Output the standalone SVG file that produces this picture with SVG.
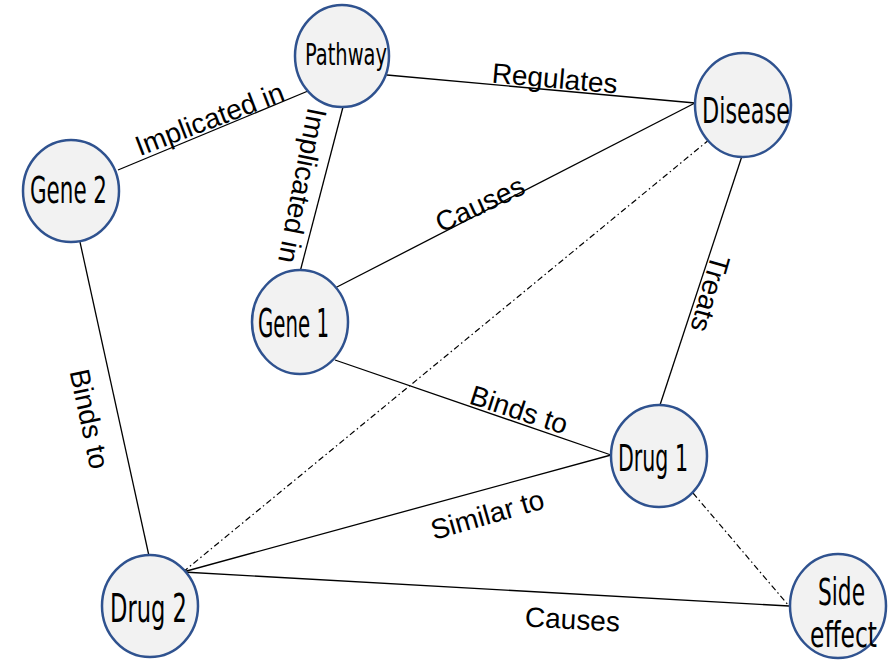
<svg xmlns="http://www.w3.org/2000/svg" width="891" height="660" viewBox="0 0 891 660">
<style>
.n{fill:#f2f2f2;stroke:#2f528f;stroke-width:2.5}
.t{font-family:"DejaVu Sans Condensed","DejaVu Sans",sans-serif;fill:#000}
.e{stroke:#000;stroke-width:1.3;fill:none}
.d{stroke:#000;stroke-width:1.2;fill:none;stroke-dasharray:6 3 1.5 3}
.l{font-family:"Liberation Sans",Arial,sans-serif;font-size:28px;fill:#000;text-anchor:middle}
</style>
<rect width="891" height="660" fill="#fff"/>
<g id="connectors">
<line class="e" x1="118" y1="170" x2="308" y2="91"/>
<line class="e" x1="387" y1="75" x2="695" y2="103"/>
<line class="e" x1="343" y1="107" x2="300" y2="272"/>
<line class="e" x1="335" y1="288" x2="695" y2="103"/>
<line class="e" x1="335" y1="360" x2="611" y2="455"/>
<line class="e" x1="742" y1="156" x2="660" y2="405"/>
<line class="e" x1="80" y1="242" x2="149" y2="556"/>
<line class="e" x1="611" y1="455" x2="183" y2="572"/>
<line class="e" x1="183" y1="572" x2="789" y2="606"/>
<line class="d" x1="183" y1="572" x2="710" y2="139"/>
<line class="d" x1="693" y1="493" x2="789" y2="606"/>
<text class="l" transform="translate(554,88) rotate(5)">Regulates</text>
<text class="l" transform="translate(213,128) rotate(-21)">Implicated in</text>
<text class="l" transform="translate(293,184) rotate(101)">Implicated in</text>
<text class="l" transform="translate(484,213) rotate(-25)">Causes</text>
<text class="l" transform="translate(701,291) rotate(106)">Treats</text>
<text class="l" transform="translate(80,421) rotate(78)">Binds to</text>
<text class="l" transform="translate(516,419) rotate(18)">Binds to</text>
<text class="l" transform="translate(490,524) rotate(-16)">Similar to</text>
<text class="l" transform="translate(572,629) rotate(3)">Causes</text>
</g>
<g id="pathway">
<ellipse class="n" cx="342" cy="56" rx="47" ry="51"/>
<text class="t" x="305" y="65" font-size="30" textLength="82" lengthAdjust="spacingAndGlyphs">Pathway</text>
</g>
<g id="disease">
<ellipse class="n" cx="743" cy="105" rx="48" ry="52"/>
<text class="t" x="702" y="123" font-size="36" textLength="88" lengthAdjust="spacingAndGlyphs">Disease</text>
</g>
<g id="gene2">
<ellipse class="n" cx="71" cy="191" rx="48" ry="51"/>
<text class="t" x="30" y="203" font-size="38" textLength="77" lengthAdjust="spacingAndGlyphs">Gene 2</text>
</g>
<g id="gene1">
<ellipse class="n" cx="300" cy="322" rx="48" ry="52"/>
<text class="t" x="258" y="337" font-size="39" textLength="71" lengthAdjust="spacingAndGlyphs">Gene 1</text>
</g>
<g id="drug1">
<ellipse class="n" cx="659" cy="456" rx="48" ry="51"/>
<text class="t" x="618" y="471" font-size="38" textLength="70" lengthAdjust="spacingAndGlyphs">Drug 1</text>
</g>
<g id="drug2">
<ellipse class="n" cx="150" cy="606" rx="48" ry="51"/>
<text class="t" x="110" y="622" font-size="39" textLength="77" lengthAdjust="spacingAndGlyphs">Drug 2</text>
</g>
<g id="side-effect">
<ellipse class="n" cx="838" cy="606" rx="48" ry="52"/>
<text class="t" x="818" y="605" font-size="37" textLength="47" lengthAdjust="spacingAndGlyphs">Side</text>
<text class="t" x="810" y="647" font-size="36" textLength="67" lengthAdjust="spacingAndGlyphs">effect</text>
</g>
</svg>
